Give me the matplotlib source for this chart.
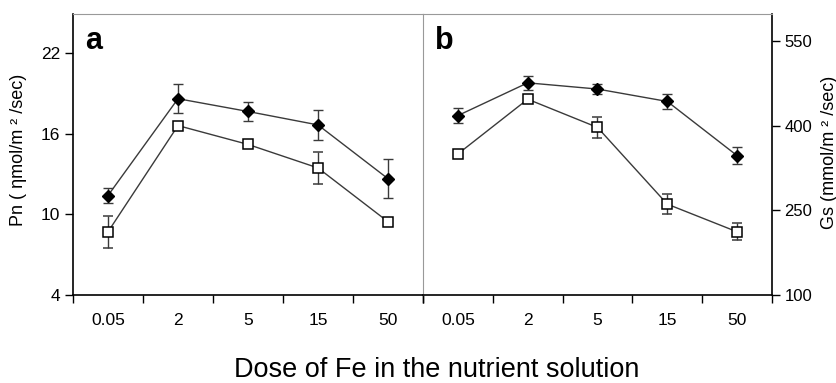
import matplotlib.pyplot as plt
import numpy as np

plt.rcParams['font.family'] = ['Liberation Sans', 'DejaVu Sans']

doses = ['0.05', '2', '5', '15', '50']

# panel a: net photosynthesis
pn_filled = [11.4, 18.6, 17.65, 16.65, 12.65]
pn_filled_err = [0.55, 1.1, 0.7, 1.1, 1.45]
pn_open = [8.7, 16.6, 15.2, 13.45, 9.45]
pn_open_err = [1.2, 0.3, 0.25, 1.2, 0.2]

# panel b: stomatal conductance
gs_filled = [418, 476, 465, 443, 347]
gs_filled_err = [13, 12, 9, 13, 15]
gs_open = [350, 447, 397, 261, 212]
gs_open_err = [7, 4, 19, 18, 15]

W, H = 837, 383
fig = plt.figure(figsize=(W / 100, H / 100), dpi=100)

bottom = (H - 295) / H
height = 281 / H
ax1 = fig.add_axes([73 / W, bottom, 350 / W, height])
ax2 = fig.add_axes([423 / W, bottom, 349 / W, height])

x = np.arange(len(doses))
line_col = '#3a3a3a'


def draw(ax, yf, ef, yo, eo):
    ax.errorbar(x, yf, yerr=ef, fmt='-D', color=line_col, mfc='black', mec='black',
                ms=6, lw=1, elinewidth=1, capsize=3.5, capthick=1, zorder=3)
    ax.errorbar(x, yo, yerr=eo, fmt='-s', color=line_col, mfc='white', mec='black',
                ms=6.5, mew=1.1, lw=1, elinewidth=1, capsize=3.5, capthick=1, zorder=4)
    ax.set_xlim(-0.5, 4.5)
    ax.set_xticks(x)
    ax.set_xticklabels(doses, fontsize=12.5)
    ax.set_xticks(np.arange(-0.5, 5, 1), minor=True)
    ax.tick_params(axis='x', which='major', length=0, pad=13)
    ax.tick_params(axis='x', which='minor', length=6, width=1, direction='out', color='black')
    ax.spines['top'].set_color('#999999')
    ax.spines['bottom'].set_linewidth(1.2)


draw(ax1, pn_filled, pn_filled_err, pn_open, pn_open_err)
ax1.set_ylim(4, 24.9)
ax1.set_yticks([4, 10, 16, 22])
ax1.tick_params(axis='y', length=6, width=1, labelsize=12.5, pad=3)
ax1.spines['right'].set_visible(False)
ax1.spines['left'].set_linewidth(1.2)

draw(ax2, gs_filled, gs_filled_err, gs_open, gs_open_err)
ax2.set_ylim(100, 598)
ax2.set_yticks([100, 250, 400, 550])
ax2.yaxis.tick_right()
ax2.tick_params(axis='y', length=6, width=1, labelsize=12, pad=3)
ax2.spines['left'].set_color('#999999')
ax2.spines['left'].set_linewidth(0.8)
ax2.spines['right'].set_linewidth(1.2)

fig.text(85 / W, 1 - 49 / H, 'a', fontsize=22, fontweight='bold', ha='left', va='baseline')
fig.text(435 / W, 1 - 49 / H, 'b', fontsize=22, fontweight='bold', ha='left', va='baseline')

fig.text(19 / W, 1 - 150 / H, 'Pn ( ηmol/m ² /sec)', fontsize=13, rotation=90,
         ha='center', va='center')
fig.text(830 / W, 1 - 152 / H, 'Gs (mmol/m ² /sec)', fontsize=13, rotation=90,
         ha='center', va='center')

fig.text(437 / W, 1 - 377 / H, 'Dose of Fe in the nutrient solution', fontsize=19.5,
         ha='center', va='baseline')

fig.savefig('out.png', dpi=100)
